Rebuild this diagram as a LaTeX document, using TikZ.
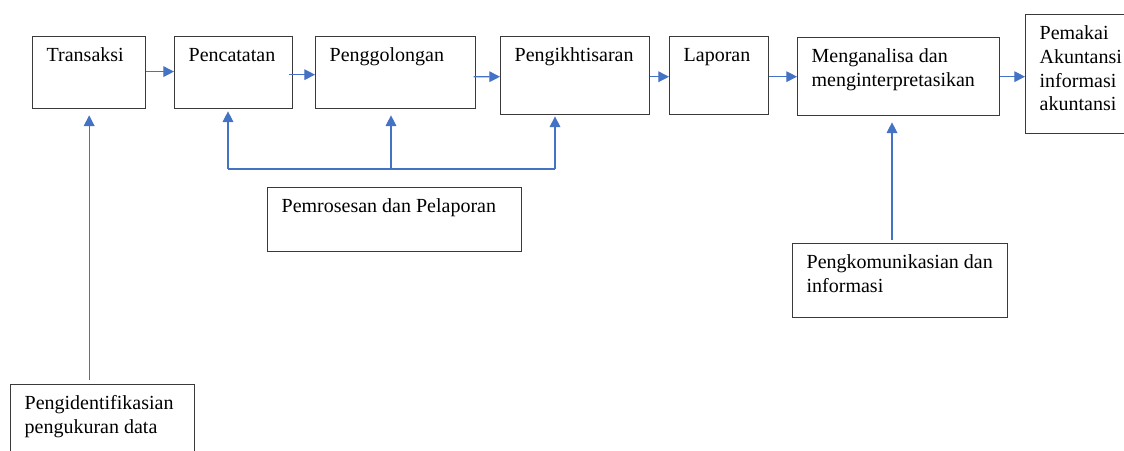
\documentclass[tikz,border=0pt]{standalone}
\usepackage{fontspec}
\setmainfont{Liberation Serif}
\usetikzlibrary{positioning,calc,arrows.meta}
\definecolor{wordblue}{HTML}{4472C4}
\definecolor{boxgray}{HTML}{3A3A3A}
\tikzset{>={Triangle[length=8pt,width=8pt]}}
\newlength{\pxu}
\setlength{\pxu}{0.75pt}
\newcommand*{\bk}[3]{\parbox[t][#2\pxu][t]{\dimexpr#1\pxu-21pt\relax}{\raggedright\rule{0pt}{18.75pt}#3}}

\begin{document}
\begin{tikzpicture}[x=0.75pt,y=-0.75pt,
  blok/.style={draw=boxgray,line width=1pt,anchor=north west,inner xsep=10.5pt,inner ysep=0pt,
    font=\fontsize{15}{17.8}\selectfont},
  arr/.style={->,draw=wordblue,line width=0.9pt},
  bus/.style={draw=wordblue,line width=0.9pt}]
\useasboundingbox (0,0) rectangle (1124,450);

\node[blok] (trans) at (32,36) {\bk{113}{72}{Transaksi}};
\node[blok] (penc) at (174,36) {\bk{118}{72}{Pencatatan}};
\node[blok] (peng) at (315,36) {\bk{160}{72}{Penggolongan}};
\node[blok] (ikht) at (500,36) {\bk{149}{78}{Pengikhtisaran}};
\node[blok] (lap) at (669,36) {\bk{99}{78}{Laporan}};
\node[blok] (anal) at (797,37) {\bk{202}{78}{Menganalisa dan\\menginterpretasikan}};
\node[blok] (pakai) at (1025,14) {\bk{115}{119}{Pemakai\\Akuntansi\\informasi\\akuntansi}};
\node[blok] (proses) at (267,187) {\bk{254}{64}{Pemrosesan dan Pelaporan}};
\node[blok] (ident) at (10,384) {\bk{184}{90}{Pengidentifikasian\\pengukuran data}};
\node[blok] (komun) at (792,243) {\bk{215}{74}{Pengkomunikasian dan\\informasi}};

% alur utama
\draw[arr] ([yshift=0.8pt]trans.east) -- ([yshift=0.8pt]penc.west);
\draw[arr] ([xshift=-3pt,yshift=-1.5pt]penc.east) -- ([yshift=-1.5pt]peng.west);
\draw[arr] ([xshift=-2pt,yshift=-3pt]peng.east) -- ([yshift=-0.8pt]ikht.west);
\draw[arr] ([yshift=-0.8pt]ikht.east) -- ([yshift=-0.8pt]lap.west);
\draw[arr] (anal.west -| lap.east) -- (anal.west);
\draw[arr] (anal.east) -- (anal.east -| pakai.west);

% masukan dari bawah
\draw[arr,shorten <=3pt,shorten >=4.5pt] (trans.south |- ident.north) -- (trans.south);
\coordinate (busL) at (228,169);
\coordinate (busM) at (391,169);
\coordinate (busR) at (555,169);
\draw[bus] (busL) -- (busR);
\draw[arr,shorten >=1.5pt] (busL) -- (busL |- penc.south);
\draw[arr,shorten >=4.5pt] (busM) -- (busM |- peng.south);
\draw[arr,shorten >=0.8pt] (busR) -- (busR |- ikht.south);
\coordinate (kx) at (892,0);
\draw[arr,shorten <=2pt,shorten >=4.5pt] (kx |- komun.north) -- (kx |- anal.south);
\end{tikzpicture}
\end{document}
